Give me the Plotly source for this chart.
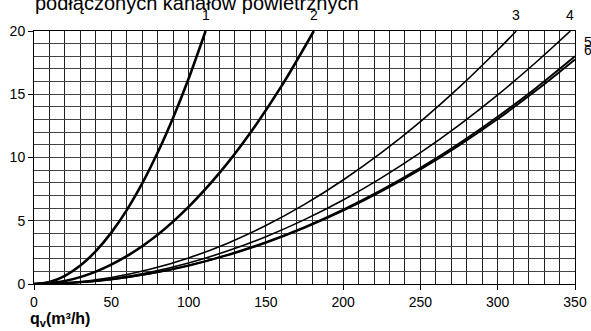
import plotly.graph_objects as go

# ---- data ----
title_text = "podłączonych kanałów powietrznych"
x_label = "<b>q<sub>v</sub>(m³/h)</b>"

x1 = [0, 10, 20, 30, 40, 50, 60, 70, 80, 90, 100, 111]
y1 = [0, 0.16, 0.65, 1.46, 2.60, 4.06, 5.84, 7.95, 10.39, 13.15, 16.23, 20.0]

x2 = [0, 20, 40, 60, 80, 100, 120, 140, 160, 181]
y2 = [0, 0.24, 0.98, 2.20, 3.90, 6.10, 8.78, 11.96, 15.62, 20.0]

x3 = [0, 25, 50, 75, 100, 125, 150, 175, 200, 225, 250, 275, 300, 312]
y3 = [0, 0.13, 0.51, 1.16, 2.06, 3.21, 4.62, 6.29, 8.22, 10.40, 12.84, 15.54, 18.50, 20.0]

x4 = [0, 25, 50, 75, 100, 125, 150, 175, 200, 225, 250, 275, 300, 325, 347]
y4 = [0, 0.10, 0.42, 0.93, 1.66, 2.60, 3.74, 5.09, 6.64, 8.41, 10.38, 12.56, 14.95, 17.55, 20.0]

x5 = [0, 25, 50, 75, 100, 125, 150, 175, 200, 225, 250, 275, 300, 325, 350]
y5 = [0, 0.09, 0.37, 0.83, 1.47, 2.30, 3.31, 4.50, 5.88, 7.44, 9.18, 11.11, 13.22, 15.52, 18.0]

x6 = [0, 25, 50, 75, 100, 125, 150, 175, 200, 225, 250, 275, 300, 325, 350]
y6 = [0, 0.09, 0.36, 0.82, 1.45, 2.26, 3.26, 4.44, 5.80, 7.34, 9.06, 10.96, 13.04, 15.31, 17.75]

curve_names = ["1", "2", "3", "4", "5", "6"]
curves = [(x1, y1), (x2, y2), (x3, y3), (x4, y4), (x5, y5), (x6, y6)]
widths = [2.6, 2.6, 1.6, 1.6, 2.0, 2.0]

x_ticks = [0, 50, 100, 150, 200, 250, 300, 350]
y_ticks = [0, 5, 10, 15, 20]

fig = go.Figure()
for (xs, ys), name, w in zip(curves, curve_names, widths):
    fig.add_trace(go.Scatter(x=xs, y=ys, mode="lines", name=name,
                             line=dict(color="black", width=w, shape="spline", smoothing=1.0),
                             showlegend=False, hoverinfo="skip"))

tick_font = dict(family="Liberation Sans, Arial, sans-serif", size=14, color="black")

fig.update_layout(
    width=591, height=331,
    margin=dict(l=34, r=16, t=31, b=47, autoexpand=False),
    paper_bgcolor="white", plot_bgcolor="white",
    xaxis=dict(range=[0, 350], tickvals=x_ticks, ticks="outside", ticklen=5,
               tickcolor="black", tickfont=tick_font, showline=True, linecolor="black",
               linewidth=1, mirror=True, showgrid=True, gridcolor="#222", gridwidth=1,
               minor=dict(dtick=10, tick0=0, showgrid=True, gridcolor="#222", gridwidth=1, ticks=""),
               zeroline=False, fixedrange=True, automargin=False),
    yaxis=dict(range=[0, 20], tickvals=y_ticks, ticks="outside", ticklen=5,
               tickcolor="black", tickfont=tick_font, showline=True, linecolor="black",
               linewidth=1, mirror=True, showgrid=True, gridcolor="#444", gridwidth=1,
               minor=dict(dtick=1, tick0=0, showgrid=True, gridcolor="#444", gridwidth=1, ticks=""),
               zeroline=False, fixedrange=True, automargin=False),
)

# title (partly cut off at top, as in the reference)
fig.add_annotation(text=title_text, xref="paper", yref="paper", x=-0.002, y=1.065,
                   xanchor="left", yanchor="bottom", yshift=-1, showarrow=False,
                   font=dict(family="Liberation Sans, Arial, sans-serif", size=20, color="black"))

# x axis title
fig.add_annotation(text=x_label, xref="paper", yref="paper", x=-0.011, y=-0.142,
                   xanchor="left", yanchor="middle", showarrow=False,
                   font=dict(family="Liberation Sans, Arial, sans-serif", size=16, color="black"))

# curve labels
for (xs, ys), name in zip(curves[:4], curve_names[:4]):
    fig.add_annotation(text=name, x=xs[-1], y=1.063, xref="x", yref="paper",
                       xanchor="center", yanchor="middle", showarrow=False, font=tick_font)
fig.add_annotation(text=curve_names[4], x=1.013, y=0.955, xref="paper", yref="paper",
                   xanchor="left", yanchor="middle", showarrow=False, font=tick_font)
fig.add_annotation(text=curve_names[5], x=1.013, y=0.925, xref="paper", yref="paper",
                   xanchor="left", yanchor="middle", showarrow=False, font=tick_font)

fig.write_html("out.html", config={"displayModeBar": False},
               post_script="document.body.style.margin='0';document.body.style.overflow='hidden';")
